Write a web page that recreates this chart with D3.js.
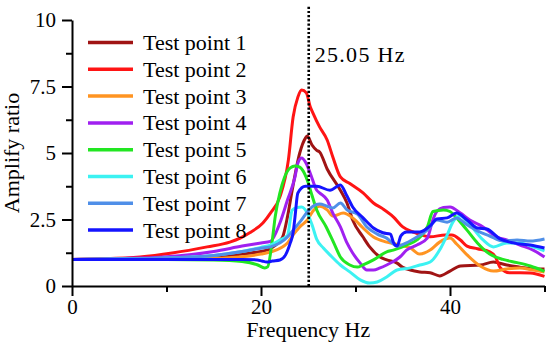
<!DOCTYPE html>
<html>
<head>
<meta charset="utf-8">
<script src="https://cdn.jsdelivr.net/npm/d3@7"></script>
<style>
  body { margin: 0; background: #fff; }
</style>
</head>
<body>
<svg id="chart" width="550" height="349"></svg>
<script>
// series names + colours
const names = ["Test point 1", "Test point 2", "Test point 3", "Test point 4",
               "Test point 5", "Test point 6", "Test point 7", "Test point 8"];
const colors = ["#a01414", "#ff1414", "#ff9422", "#a020f0",
                "#22e622", "#3cf2f2", "#4f8fe8", "#1414ff"];

// [frequency Hz, amplify ratio]
const tp1 = [[0,1.0],[10,1.05],[15,1.1],[18,1.2],[20,1.3],[21,1.4],[22,1.7],[22.3,1.85],[22.8,2.6],[23.3,3.6],[24.1,5.0],[24.7,5.56],[24.9,5.64],[25.4,5.3],[25.9,5.1],[26.2,5.04],[27.0,4.4],[28.4,3.6],[29.1,3.12],[29.7,2.48],[30.8,1.84],[31.5,1.47],[32.6,1.09],[33.3,0.98],[34.4,0.86],[35.0,0.7],[35.8,0.6],[36.8,0.53],[37.9,0.5],[38.9,0.38],[40.0,0.56],[41.1,0.75],[43.2,0.79],[44.6,0.9],[46.0,0.79],[47.4,0.71],[48.8,0.64],[50,0.64]];
const tp2 = [[0,1.0],[3,1.02],[7.2,1.09],[10.6,1.24],[14.3,1.47],[16.7,1.65],[17.8,1.8],[18.8,2.0],[20.2,2.37],[21.0,2.74],[22.0,3.35],[22.9,4.74],[23.4,6.35],[23.9,7.1],[24.3,7.37],[24.8,7.26],[25.2,6.75],[25.5,6.5],[26.2,5.98],[27.0,5.49],[27.6,4.85],[28.4,4.1],[29.4,3.85],[30.8,3.5],[31.9,3.12],[32.9,2.9],[34.0,2.6],[35.0,2.22],[36.1,2.03],[37.9,1.85],[39.5,1.92],[40.2,1.92],[41.1,1.73],[41.8,1.5],[42.9,1.4],[44.2,1.28],[44.8,1.1],[45.3,0.7],[46.3,0.5],[48.5,0.49],[50,0.36]];
const tp3 = [[0,1.0],[10,1.0],[15,1.03],[18,1.1],[20,1.2],[21,1.28],[22.8,1.62],[23.4,1.92],[24.1,2.22],[24.9,2.48],[25.5,2.82],[26.2,3.0],[27.0,2.86],[27.6,2.63],[28.7,2.74],[29.7,2.56],[30.8,2.18],[31.9,1.84],[33.3,1.65],[34.7,1.54],[35.8,1.43],[36.8,1.2],[37.9,1.35],[38.9,1.65],[40.0,1.8],[40.7,1.58],[41.8,1.17],[43.2,0.75],[44.6,0.56],[46.0,0.64],[47.4,0.68],[48.8,0.6],[50,0.53]];
const tp4 = [[0,1.0],[5,1.03],[10,1.1],[15,1.3],[18,1.5],[20,1.62],[21.0,1.68],[22.0,2.37],[22.8,3.23],[23.6,4.1],[23.9,4.62],[24.3,4.81],[24.7,4.66],[25.2,4.25],[25.9,3.6],[26.2,3.5],[27.0,3.23],[27.6,2.74],[28.4,2.22],[29.1,1.62],[29.7,1.24],[30.5,0.86],[31.2,0.6],[31.9,0.6],[32.6,0.68],[33.3,0.79],[33.9,0.9],[34.7,1.09],[35.4,1.35],[36.5,1.54],[37.6,1.8],[38.2,2.5],[38.6,2.8],[39.3,2.95],[40.0,2.97],[41.1,2.74],[42.1,2.48],[43.5,2.22],[45.0,1.84],[46.0,1.73],[47.4,1.54],[48.8,1.35],[50,1.09]];
const tp5 = [[0,1.0],[10,1.0],[15,0.98],[18,0.92],[19.6,0.8],[20.4,0.68],[20.7,0.72],[21.2,1.73],[21.5,2.6],[22.0,3.5],[22.5,4.1],[23.1,4.44],[23.6,4.51],[24.1,4.47],[24.4,4.36],[24.9,3.98],[25.4,3.4],[25.9,2.86],[26.9,2.22],[27.7,1.62],[28.4,1.09],[29.4,0.79],[30.2,0.71],[30.8,0.79],[31.9,0.98],[33.3,1.28],[34.0,1.35],[35.4,1.54],[36.5,1.73],[37.6,2.22],[38.2,2.8],[39.3,2.86],[40.0,2.8],[40.7,2.56],[41.8,2.1],[42.9,1.62],[44.2,1.2],[45.6,1.0],[47.1,0.88],[48.5,0.75],[50,0.55]];
const tp6 = [[0,1.0],[10,1.05],[15,1.15],[18,1.3],[20,1.45],[21,1.54],[22,1.73],[22.8,1.9],[23.3,2.85],[23.8,2.95],[24.3,2.97],[24.9,2.74],[25.4,2.3],[25.9,1.75],[26.6,1.43],[27.3,1.17],[28.4,0.79],[29.4,0.53],[30.5,0.23],[31.5,0.11],[32.3,0.15],[33.3,0.34],[34.4,0.6],[35.8,0.68],[36.8,0.79],[37.9,0.9],[38.9,1.35],[39.7,1.92],[40.3,2.4],[41.1,2.63],[42.1,2.3],[43.5,1.73],[44.6,1.47],[46.0,1.62],[47.4,1.62],[48.8,1.47],[50,1.32]];
const tp7 = [[0,1.0],[10,1.05],[15,1.15],[18,1.3],[20,1.42],[21,1.47],[22.8,1.84],[23.4,2.1],[24.1,2.4],[24.9,2.78],[25.5,3.0],[26.2,3.08],[27.0,3.0],[27.6,2.93],[28.4,3.12],[29.1,2.86],[30.2,2.7],[31.2,2.22],[32.3,1.95],[33.3,1.8],[34.4,1.5],[35.4,1.62],[36.5,1.84],[37.6,2.1],[38.6,2.48],[39.7,2.4],[40.7,2.56],[41.8,2.3],[42.9,2.07],[44.2,1.88],[45.6,1.69],[47.1,1.73],[48.5,1.69],[50,1.77]];
const tp8 = [[0,1.0],[10,1.0],[15,1.0],[18,1.0],[19.6,0.98],[20.1,0.94],[20.6,0.9],[21.2,0.94],[22.0,0.98],[22.6,1.17],[23.1,1.62],[23.4,2.0],[23.6,2.6],[23.9,3.5],[24.7,3.75],[25.9,3.75],[27.3,3.6],[28.4,3.8],[29.1,3.38],[29.7,2.97],[30.8,2.56],[31.9,2.18],[32.9,2.0],[33.7,1.95],[34.0,1.65],[34.4,1.5],[34.8,1.88],[35.4,2.03],[36.8,2.03],[37.9,2.26],[38.6,2.52],[39.7,2.56],[40.7,2.74],[41.8,2.48],[42.9,2.18],[43.9,2.14],[45.3,1.77],[46.7,1.62],[48.5,1.54],[50,1.43]];
const series = [tp1, tp2, tp3, tp4, tp5, tp6, tp7, tp8];

const xMajor = [0, 20, 40];
const xMinor = [10, 30, 50];
const yMajor = [0, 2.5, 5, 7.5, 10];
const yMinor = [1.25, 3.75, 6.25, 8.75];
const markFreq = 25.05;

const serif = '"Liberation Serif", "Times New Roman", Times, serif';

const svg = d3.select("#chart");
const x = d3.scaleLinear().domain([0, 50]).range([72, 544.5]);
const y = d3.scaleLinear().domain([0, 10]).range([286, 20]);

// curves
const line = d3.line()
    .x(d => x(d[0]))
    .y(d => y(d[1]))
    .curve(d3.curveMonotoneX);

svg.append("g")
    .selectAll("path")
    .data(series)
    .join("path")
    .attr("fill", "none")
    .attr("stroke", (d, i) => colors[i])
    .attr("stroke-width", 3)
    .attr("stroke-linejoin", "round")
    .attr("d", line);

// dotted marker line
svg.append("line")
    .attr("x1", x(markFreq)).attr("x2", x(markFreq))
    .attr("y1", y(10.5)).attr("y2", y(0))
    .attr("stroke", "#000")
    .attr("stroke-width", 2.6)
    .attr("stroke-dasharray", "2.2 2");

svg.append("text")
    .attr("x", x(markFreq) + 6)
    .attr("y", 62)
    .attr("font-size", 22)
    .attr("letter-spacing", 1.3)
    .style("font-family", serif)
    .text(markFreq.toFixed(2) + " Hz");

// axes
svg.append("g")
    .attr("transform", `translate(0,${y(0)})`)
    .call(d3.axisBottom(x).tickValues(xMajor).tickSize(10).tickSizeOuter(0).tickPadding(3));
svg.append("g")
    .attr("transform", `translate(0,${y(0)})`)
    .call(d3.axisBottom(x).tickValues(xMinor).tickSize(6).tickFormat(""))
    .call(g => g.select(".domain").remove());

svg.append("g")
    .attr("transform", `translate(${x(0)},0)`)
    .call(d3.axisLeft(y).tickValues(yMajor).tickSize(10).tickSizeOuter(0).tickPadding(6)
        .tickFormat(d => d === 0 || d === 5 || d === 10 ? d : d3.format(".1f")(d)));
svg.append("g")
    .attr("transform", `translate(${x(0)},0)`)
    .call(d3.axisLeft(y).tickValues(yMinor).tickSize(6).tickFormat(""))
    .call(g => g.select(".domain").remove());

svg.selectAll(".domain").attr("stroke-width", 2);
svg.selectAll(".tick line").attr("stroke-width", 2);
svg.selectAll(".tick text")
    .attr("font-size", 21)
    .style("font-family", serif)
    .attr("fill", "#000");

svg.append("text")
    .attr("x", (x(0) + x(50)) / 2)
    .attr("y", 337)
    .attr("text-anchor", "middle")
    .attr("font-size", 22)
    .style("font-family", serif)
    .text("Frequency Hz");

svg.append("text")
    .attr("transform", `translate(19,${(y(0) + y(10)) / 2}) rotate(-90)`)
    .attr("text-anchor", "middle")
    .attr("font-size", 22)
    .style("font-family", serif)
    .text("Amplify ratio");

// legend
const legend = svg.append("g")
    .selectAll("g")
    .data(names)
    .join("g")
    .attr("transform", (d, i) => `translate(88,${42.5 + i * 26.8})`);

legend.append("line")
    .attr("x1", 0).attr("x2", 45)
    .attr("stroke", (d, i) => colors[i])
    .attr("stroke-width", 3.5);

legend.append("text")
    .attr("x", 55)
    .attr("y", 7.5)
    .attr("font-size", 22)
    .style("font-family", serif)
    .text(d => d);
</script>
</body>
</html>
